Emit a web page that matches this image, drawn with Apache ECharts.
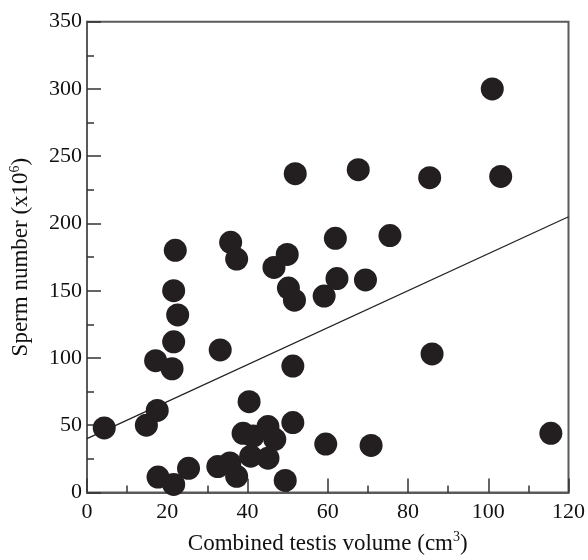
<!DOCTYPE html>
<html>
<head>
<meta charset="utf-8">
<script src="https://cdn.jsdelivr.net/npm/echarts@6/dist/echarts.min.js"></script>
<style>
html,body{margin:0;padding:0;background:#fff;}
#chart{width:588px;height:560px;}
</style>
</head>
<body>
<div id="chart"></div>
<script>
// Combined testis volume (cm3)
var testisVolume = [4.3, 14.8, 17.1, 17.5, 17.7, 21.2, 21.6, 21.6, 22.6, 22.0, 21.6, 25.3, 32.6, 33.2, 35.6, 35.8, 37.3, 37.3, 38.9, 40.4, 40.8, 41.4, 45.1, 45.1, 46.8, 46.6, 49.9, 49.4, 50.2, 51.7, 51.3, 51.3, 51.9, 59.1, 59.5, 61.9, 62.3, 67.6, 69.4, 70.8, 75.5, 85.4, 86.0, 101.0, 103.1, 115.6];
// Sperm number (x10^6)
var spermNumber = [48, 50, 98, 61, 11.5, 92, 112, 150, 132, 180, 6, 18, 19.3, 106, 22, 186, 173.5, 12, 44, 67.5, 27, 42, 49, 25.5, 39.5, 167.3, 177, 9, 152, 143, 94, 52, 237, 146, 36, 189, 159, 240, 158, 35, 191, 234, 103, 300, 235, 44];
// Regression line end points
var fitX = [0, 120];
var fitY = [40, 205];
var xTicks = [0, 20, 40, 60, 80, 100, 120];
var yTicks = [0, 50, 100, 150, 200, 250, 300, 350];

var points = testisVolume.map(function (v, i) { return [v, spermNumber[i]]; });
var fitLine = fitX.map(function (v, i) { return [v, fitY[i]]; });

var serif = 'Liberation Serif';
var axisColor = '#5a5a5a';
var chart = echarts.init(document.getElementById('chart'));
chart.setOption({
  animation: false,
  backgroundColor: '#fff',
  grid: {
    left: 84.3, right: 18.7, top: 21.7, bottom: 59.3,
    show: true, borderColor: axisColor, borderWidth: 2, backgroundColor: 'transparent'
  },
  xAxis: {
    type: 'value',
    min: xTicks[0], max: xTicks[xTicks.length - 1], interval: 20,
    axisLine: { show: true, lineStyle: { color: axisColor, width: 2 } },
    axisTick: { show: true, inside: true, length: 14, lineStyle: { color: '#333', width: 1.5 } },
    minorTick: { show: true, splitNumber: 2, length: 7, lineStyle: { color: '#333', width: 1.5 } },
    splitLine: { show: false },
    axisLabel: { color: '#111', fontFamily: serif, fontSize: 22, margin: 9 },
    name: '{a|Combined testis volume (cm}{s|3}{a|)}',
    nameLocation: 'middle',
    nameGap: 38,
    nameTextStyle: {
      rich: {
        a: { fontFamily: serif, fontSize: 23, color: '#111', lineHeight: 26 },
        s: { fontFamily: serif, fontSize: 14, color: '#111', verticalAlign: 'top', lineHeight: 14 }
      }
    }
  },
  yAxis: {
    type: 'value',
    min: yTicks[0], max: yTicks[yTicks.length - 1], interval: 50,
    axisLine: { show: true, lineStyle: { color: axisColor, width: 2 } },
    axisTick: { show: true, inside: true, length: 14, lineStyle: { color: '#333', width: 1.5 } },
    minorTick: { show: true, splitNumber: 2, length: 7, lineStyle: { color: '#333', width: 1.5 } },
    splitLine: { show: false },
    axisLabel: { color: '#111', fontFamily: serif, fontSize: 22, margin: 5 },
    name: '{a|Sperm number (x10}{s|6}{a|)}',
    nameLocation: 'middle',
    nameRotate: 90,
    nameGap: 53,
    nameTextStyle: {
      rich: {
        a: { fontFamily: serif, fontSize: 23, color: '#111', lineHeight: 26 },
        s: { fontFamily: serif, fontSize: 14, color: '#111', verticalAlign: 'top', lineHeight: 14 }
      }
    }
  },
  series: [
    {
      type: 'line',
      data: fitLine,
      showSymbol: false,
      symbol: 'none',
      lineStyle: { color: '#222', width: 1.3 },
      z: 1,
      silent: true
    },
    {
      type: 'scatter',
      data: points,
      symbol: 'circle',
      symbolSize: 23,
      itemStyle: { color: '#231f20', opacity: 1 },
      z: 2
    }
  ]
});
</script>
</body>
</html>
